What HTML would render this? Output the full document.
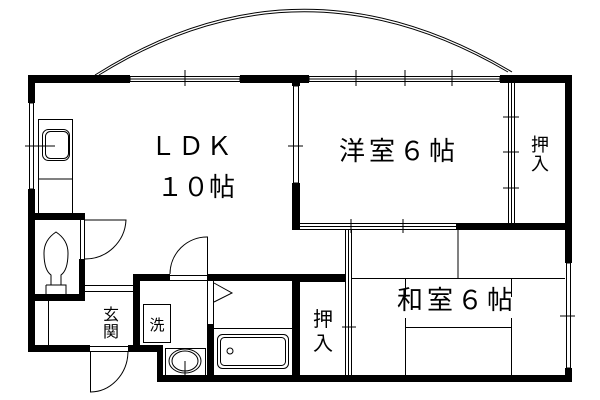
<!DOCTYPE html>
<html><head><meta charset="utf-8"><style>html,body{margin:0;padding:0;background:#fff}svg{display:block}</style></head>
<body>
<svg width="600" height="400" viewBox="0 0 600 400" xmlns="http://www.w3.org/2000/svg" font-family="'Liberation Sans','Noto Sans CJK JP',sans-serif">
<g fill="none" stroke="#000" stroke-width="1">
<path d="M95,75 Q300,-55 512,72"/>
<path d="M99,75 Q300,-50 508,72"/>
</g>
<g fill="#000">
<rect x="28" y="75" width="102" height="8"/>
<rect x="240" y="75" width="69" height="8"/>
<rect x="500" y="75" width="72" height="8"/>
<rect x="28" y="75" width="7" height="28"/>
<rect x="28" y="189" width="7" height="163"/>
<rect x="565" y="75" width="7" height="188"/>
<rect x="565" y="368" width="7" height="14"/>
<rect x="157" y="375" width="415" height="7"/>
<rect x="28" y="345" width="62" height="7"/>
<rect x="128" y="345" width="35" height="7"/>
<rect x="157" y="345" width="6" height="37"/>
<rect x="292" y="83" width="8" height="3"/>
<rect x="292" y="183" width="8" height="47"/>
<rect x="456" y="223" width="116" height="7"/>
<rect x="292" y="274" width="53" height="8"/>
<rect x="292" y="274" width="8" height="108"/>
<rect x="35" y="213" width="50" height="7"/>
<rect x="79" y="213" width="6" height="5"/>
<rect x="79" y="259" width="6" height="42"/>
<rect x="35" y="294" width="50" height="7"/>
<rect x="133" y="274" width="7" height="78"/>
<rect x="133" y="274" width="37" height="7"/>
<rect x="207" y="274" width="93" height="7"/>
<rect x="207" y="324" width="7" height="51"/>
</g>
<g fill="#fff" stroke="#000" stroke-width="1">
<rect x="130" y="76.5" width="110" height="5"/>
<rect x="309" y="76.5" width="191" height="5"/>
<rect x="29.5" y="103" width="4" height="86"/>
<rect x="293.5" y="86" width="5" height="97"/>
<rect x="566.5" y="263" width="4" height="105"/>
</g>
<g fill="none" stroke="#000" stroke-width="1">
<path d="M185,70V86 M356,70V86 M405,70V86 M452,70V86"/>
<path d="M309,79H500 M130,79H240"/>
<path d="M25,146H55 M288,146H303 M560,316H575"/>
<rect x="38.5" y="119.5" width="34" height="94"/>
<path d="M38,179H72"/>
<rect x="42.5" y="129.5" width="27" height="31" rx="6"/>
<rect x="45.5" y="131.5" width="23" height="27" rx="5"/>
<path d="M508.5,83V223 M511.5,83V223 M514.5,83V223"/>
<path d="M503,117H519 M503,152H519 M503,188H519"/>
<path d="M300,223.5H456 M300,226.5H456 M300,229.5H456"/>
<path d="M351,219V233 M403,219V233"/>
<path d="M345.5,230V375 M348.5,230V375 M351.5,230V375"/>
<path d="M342,327H356"/>
<path d="M458,230V278 M352,278.5H565 M405.5,278V297 M405.5,318V375 M511.5,278V297 M511.5,318V375 M405,327.5H511"/>
<path d="M80.5,218V259 M84.5,218V259"/>
<path d="M85,220H126 A41,41 0 0 1 85,259"/>
<path d="M51,285V275 Q44,270 44,253 Q44,240 56,232 Q68,240 68,253 Q68,270 61,275V285 H51"/>
<path d="M46,285H66V294 M46,285V294"/>
<path d="M85,285.5H133 M85,291.5H133"/>
<path d="M48.5,301V345"/>
<path d="M90,346.5H128 M90,351.5H128"/>
<path d="M90.5,351V392 A38,41 0 0 0 128,352"/>
<path d="M170,275.5H207 M170,280.5H207"/>
<path d="M207.5,274V237 A37,37 0 0 0 170,274"/>
<path d="M207.5,281V324 M213.5,281V324"/>
<path d="M214,283L232,293L214,302"/>
<rect x="143.5" y="304.5" width="27" height="38"/>
<rect x="165.5" y="348.5" width="40" height="27"/>
<ellipse cx="185" cy="361" rx="16" ry="12"/>
<ellipse cx="185" cy="361" rx="13" ry="10"/>
<path d="M185,361V375"/>
<path d="M214,328.5H292"/>
<rect x="217.5" y="334.5" width="71" height="34" rx="5"/>
<rect x="220.5" y="337.5" width="65" height="28" rx="4"/>
<circle cx="230" cy="351" r="3"/>
</g>
<g fill="#000" font-size="26" font-family="'Noto Sans CJK JP',sans-serif">
<text x="150" y="155" letter-spacing="2">ＬＤＫ</text>
<text x="157" y="196">１０帖</text>
<text x="339" y="160" letter-spacing="4">洋室６帖</text>
<text x="397" y="309" letter-spacing="4">和室６帖</text>
</g>
<g fill="#000" font-size="18" text-anchor="middle" font-family="'Noto Sans CJK JP',sans-serif">
<text x="540" y="151">押</text><text x="540" y="170">入</text>
<text x="323" y="326" font-size="20">押</text><text x="323" y="350" font-size="20">入</text>
<text x="111" y="320" font-size="16">玄</text><text x="111" y="337" font-size="16">関</text>
<text x="157" y="330" font-size="15">洗</text>
</g>
</svg>
</body></html>
